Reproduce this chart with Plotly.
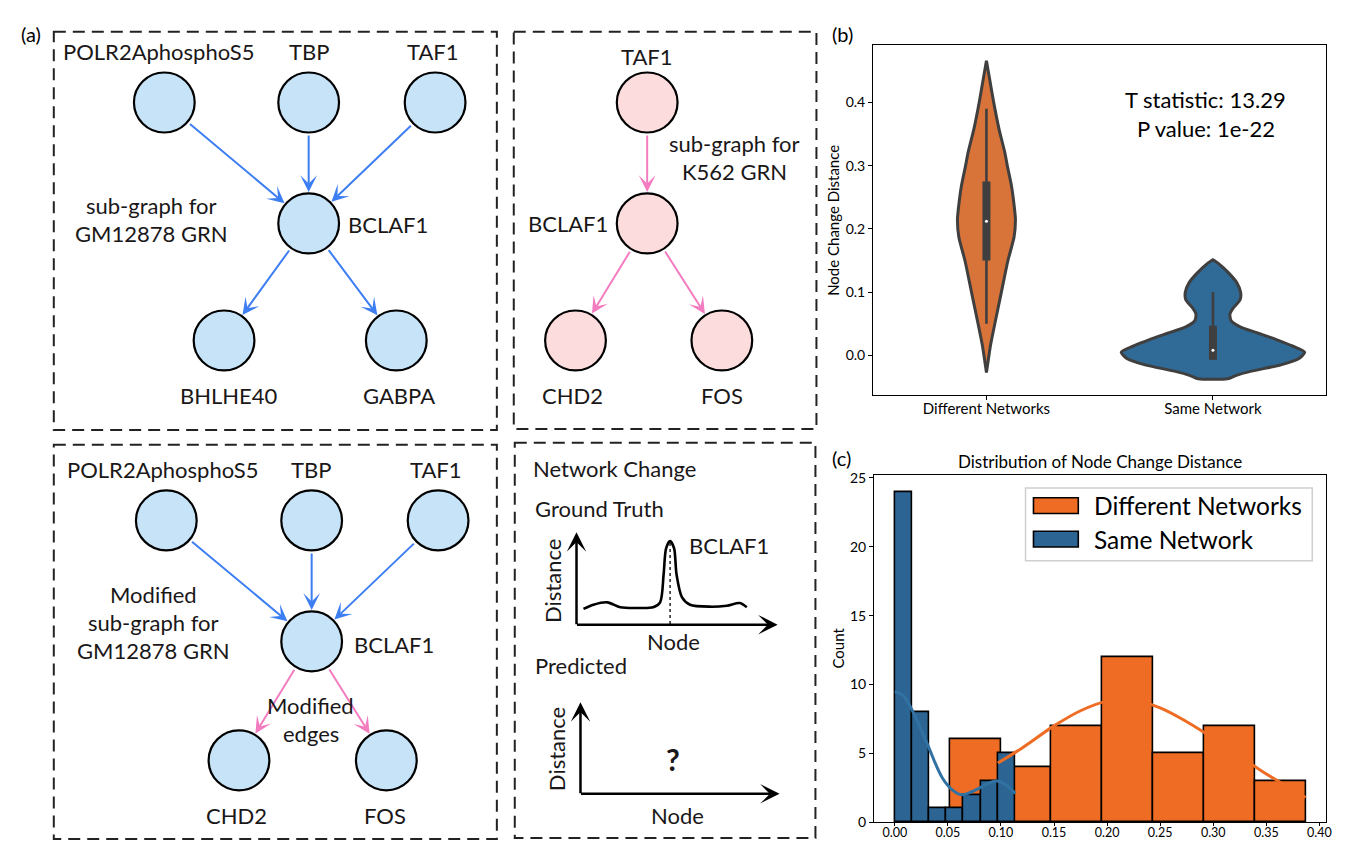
import plotly.graph_objects as go

W, H = 1368, 841

# ---------------- panel (b): violin data ----------------
violin_categories = ["Different Networks", "Same Network"]
diff_violin_y = [-0.027, -0.010, 0.016, 0.050, 0.100, 0.150, 0.187, 0.215, 0.238,
                 0.269, 0.300, 0.321, 0.357, 0.400, 0.435, 0.466]
diff_violin_halfwidth = [0.0, 0.007, 0.018, 0.037, 0.066, 0.095, 0.122, 0.128, 0.122,
                         0.110, 0.092, 0.081, 0.056, 0.032, 0.015, 0.0]
same_violin_y = [-0.037, -0.032, -0.025, -0.015, -0.005, 0.005, 0.015, 0.025, 0.035,
                 0.045, 0.055, 0.065, 0.075, 0.088, 0.100, 0.115, 0.130, 0.145, 0.151]
same_violin_halfwidth = [0.065, 0.10, 0.17, 0.30, 0.38, 0.405, 0.35, 0.28, 0.20,
                         0.12, 0.08, 0.075, 0.09, 0.12, 0.122, 0.105, 0.07, 0.025, 0.0]
box_q1 = [0.150, -0.007]
box_q3 = [0.275, 0.047]
whisker_lo = [0.050, -0.007]
whisker_hi = [0.390, 0.100]
medians = [0.212, 0.008]
t_statistic = "13.29"
p_value = "1e-22"

# ---------------- panel (c): histogram data ----------------
diff_bin_edges = [0.0521, 0.1000, 0.1478, 0.1957, 0.2435, 0.2914, 0.3392, 0.3871]
diff_counts = [6, 4, 7, 12, 5, 7, 3]
same_bin_edges = [0.0, 0.0162, 0.0325, 0.0487, 0.0649, 0.0812, 0.0974, 0.1136]
same_counts = [24, 8, 1, 1, 2, 3, 5]
diff_kde_x = [0.097, 0.120, 0.150, 0.175, 0.200, 0.225, 0.250, 0.275, 0.300, 0.325, 0.350, 0.370, 0.387]
diff_kde_y = [4.3, 5.4, 7.0, 8.1, 8.8, 8.9, 8.3, 7.3, 6.1, 4.8, 3.5, 2.6, 1.8]
same_kde_x = [0.0, 0.008, 0.016, 0.030, 0.045, 0.055, 0.063, 0.072, 0.080, 0.090, 0.097, 0.105, 0.1136]
same_kde_y = [9.5, 9.2, 8.2, 5.8, 3.2, 2.3, 2.0, 2.2, 2.5, 2.9, 3.0, 2.7, 2.1]

ORANGE_V, BLUE_V = "#d8733a", "#306a96"
ORANGE_H, BLUE_H = "#ee6c23", "#2c6594"
DARK = "#3f3f3f"

fig = go.Figure()

# ---------- violins ----------
def outline(center, ys, hws):
    xs = [center + h for h in hws] + [center - h for h in reversed(hws)]
    yy = list(ys) + list(reversed(ys))
    return xs + [xs[0]], yy + [yy[0]]

for i, (ys, hws, col) in enumerate([(diff_violin_y, diff_violin_halfwidth, ORANGE_V),
                                    (same_violin_y, same_violin_halfwidth, BLUE_V)]):
    xs, yy = outline(i, ys, hws)
    fig.add_trace(go.Scatter(x=xs, y=yy, mode="lines", fill="toself", fillcolor=col,
                             line=dict(color=DARK, width=3, shape="spline", smoothing=0.6),
                             name=violin_categories[i], showlegend=False,
                             xaxis="x", yaxis="y"))
    fig.add_trace(go.Scatter(x=[i, i], y=[whisker_lo[i], whisker_hi[i]], mode="lines",
                             line=dict(color=DARK, width=2.6), showlegend=False,
                             xaxis="x", yaxis="y"))
    fig.add_trace(go.Scatter(x=[i, i], y=[box_q1[i], box_q3[i]], mode="lines",
                             line=dict(color=DARK, width=8), showlegend=False,
                             xaxis="x", yaxis="y"))
    fig.add_trace(go.Scatter(x=[i], y=[medians[i]], mode="markers",
                             marker=dict(color="white", size=3), showlegend=False,
                             xaxis="x", yaxis="y"))

# ---------- histogram ----------
def centers(edges):
    return [(a + b) / 2 for a, b in zip(edges[:-1], edges[1:])]

def widths(edges):
    return [b - a for a, b in zip(edges[:-1], edges[1:])]

fig.add_trace(go.Bar(x=centers(diff_bin_edges), y=diff_counts, width=widths(diff_bin_edges),
                     marker=dict(color=ORANGE_H, line=dict(color="black", width=1.6)),
                     name="Different Networks", showlegend=False, xaxis="x2", yaxis="y2"))
fig.add_trace(go.Bar(x=centers(same_bin_edges), y=same_counts, width=widths(same_bin_edges),
                     marker=dict(color=BLUE_H, line=dict(color="black", width=1.6)),
                     name="Same Network", showlegend=False, xaxis="x2", yaxis="y2"))
fig.add_trace(go.Scatter(x=diff_kde_x, y=diff_kde_y, mode="lines",
                         line=dict(color=ORANGE_H, width=3, shape="spline"),
                         showlegend=False, xaxis="x2", yaxis="y2"))
fig.add_trace(go.Scatter(x=same_kde_x, y=same_kde_y, mode="lines",
                         line=dict(color="#3272a3", width=3, shape="spline"),
                         showlegend=False, xaxis="x2", yaxis="y2"))

# ---------- panel (a) schematic on a pixel-space overlay axis ----------
TXT = "#1a1718"
FONT = "Lato"
FS = 22
R = 30.5
BLUE_NODE, PINK_NODE = "#c6e3f8", "#fcdcdc"
BLUE_EDGE, PINK_EDGE = "#3e7ef3", "#f37cc0"

shapes = []
annotations = []

def px_text(x, y, text, size=FS, anchor="center", angle=0, color=TXT, family=FONT):
    annotations.append(dict(x=x, y=y, xref="x3", yref="y3", text=text, showarrow=False,
                            xanchor=anchor, yanchor="middle", textangle=angle,
                            font=dict(family=family, size=size, color=color)))

def node(cx, cy, fill):
    shapes.append(dict(type="circle", xref="x3", yref="y3", x0=cx - R, x1=cx + R,
                       y0=cy - R, y1=cy + R, fillcolor=fill,
                       line=dict(color="black", width=2.2), layer="above"))

def edge(p, q, color):
    annotations.append(dict(x=q[0], y=q[1], ax=p[0], ay=p[1], xref="x3", yref="y3",
                            axref="x3", ayref="y3", text="", showarrow=True,
                            arrowhead=3, arrowsize=1.4, arrowwidth=2, arrowcolor=color,
                            standoff=R + 1, startstandoff=R + 1))

def dashed_box(x0, y0, x1, y1):
    shapes.append(dict(type="rect", xref="x3", yref="y3", x0=x0, y0=y0, x1=x1, y1=y1,
                       line=dict(color="#222222", width=2, dash="12px,7px"),
                       fillcolor="rgba(0,0,0,0)"))

# boxes
dashed_box(46, 18, 491, 423)
dashed_box(508, 18, 812, 422)
dashed_box(46, 438, 491, 839)
dashed_box(509, 436, 811, 838)

# top-left: GM12878 sub-graph
tl = {"POLR2AphosphoS5": (157, 90), "TBP": (302, 90), "TAF1": (429, 90),
      "BCLAF1": (302, 213), "BHLHE40": (217, 332), "GABPA": (390, 332)}
for a in ["POLR2AphosphoS5", "TBP", "TAF1"]:
    edge(tl[a], tl["BCLAF1"], BLUE_EDGE)
for b in ["BHLHE40", "GABPA"]:
    edge(tl["BCLAF1"], tl[b], BLUE_EDGE)
for k, v in tl.items():
    node(v[0], v[1], BLUE_NODE)
px_text(152, 38, "POLR2AphosphoS5")
px_text(302, 38, "TBP")
px_text(427, 38, "TAF1")
px_text(382, 214, "BCLAF1")
px_text(222, 388, "BHLHE40")
px_text(393, 388, "GABPA")
px_text(144, 195, "sub-graph for")
px_text(144, 223, "GM12878 GRN")

# top-right: K562 sub-graph
tr = {"TAF1": (642, 90), "BCLAF1": (642, 213), "CHD2": (570, 332), "FOS": (717, 332)}
edge(tr["TAF1"], tr["BCLAF1"], PINK_EDGE)
edge(tr["BCLAF1"], tr["CHD2"], PINK_EDGE)
edge(tr["BCLAF1"], tr["FOS"], PINK_EDGE)
for k, v in tr.items():
    node(v[0], v[1], PINK_NODE)
px_text(642, 43, "TAF1")
px_text(730, 132, "sub-graph for")
px_text(730, 160, "K562 GRN")
px_text(562, 213, "BCLAF1")
px_text(567, 388, "CHD2")
px_text(717, 388, "FOS")

# bottom-left: modified sub-graph
bl = {"POLR2AphosphoS5": (159, 515), "TBP": (305, 515), "TAF1": (432, 515),
      "BCLAF1": (305, 638), "CHD2": (232, 759), "FOS": (380, 759)}
for a in ["POLR2AphosphoS5", "TBP", "TAF1"]:
    edge(bl[a], bl["BCLAF1"], BLUE_EDGE)
for b in ["CHD2", "FOS"]:
    edge(bl["BCLAF1"], bl[b], PINK_EDGE)
for k, v in bl.items():
    node(v[0], v[1], BLUE_NODE)
px_text(156, 463, "POLR2AphosphoS5")
px_text(304, 463, "TBP")
px_text(430, 463, "TAF1")
px_text(388, 641, "BCLAF1")
px_text(229, 815, "CHD2")
px_text(379, 815, "FOS")
px_text(146, 590, "Modified")
px_text(146, 619, "sub-graph for")
px_text(146, 647, "GM12878 GRN")
px_text(304, 703, "Modified")
px_text(304, 732, "edges")

# bottom-right: network change sketch
gt_curve_x = [578, 588, 602, 615, 632, 648, 655, 658.5, 661, 665, 669, 671.5, 677, 685, 705, 722, 735, 742]
gt_curve_y = [605, 600.7, 598.3, 603.3, 604, 603.3, 598.3, 570, 543.3, 536, 543.3, 570, 593.3, 600.7, 602.7, 601.7, 599, 603.3]
fig.add_trace(go.Scatter(x=gt_curve_x, y=gt_curve_y, mode="lines",
                         line=dict(color="black", width=2.6, shape="spline", smoothing=0.8),
                         showlegend=False, xaxis="x3", yaxis="y3", hoverinfo="skip"))
fig.add_trace(go.Scatter(x=[665, 665], y=[538, 621], mode="lines",
                         line=dict(color="black", width=1.3, dash="dot"),
                         showlegend=False, xaxis="x3", yaxis="y3", hoverinfo="skip"))

def axis_arrow(x0, y0, x1, y1):
    annotations.append(dict(x=x1, y=y1, ax=x0, ay=y0, xref="x3", yref="y3",
                            axref="x3", ayref="y3", text="", showarrow=True,
                            arrowhead=3, arrowsize=1.3, arrowwidth=2.5, arrowcolor="black"))

axis_arrow(571, 622, 571, 527)
axis_arrow(570, 621, 773, 621)
axis_arrow(575, 794, 575, 700)
axis_arrow(574, 793, 775, 793)
px_text(525, 462, "Network Change", anchor="left")
px_text(527, 503, "Ground Truth", anchor="left")
px_text(682, 540, "BCLAF1", anchor="left")
px_text(547, 577, "Distance", angle=-90)
px_text(668, 638, "Node")
px_text(527, 663, "Predicted", anchor="left")
px_text(551, 748, "Distance", angle=-90)
px_text(668, 758, "<b>?</b>", size=30)
px_text(672, 815, "Node")

# panel labels
px_text(23, 20, "(a)", size=20, color="black")
px_text(838, 20, "(b)", size=20, color="black")
px_text(837, 452, "(c)", size=20, color="black")

# panel (b) texts
px_text(828, 210, "Node Change Distance", size=15, angle=-90, color="black")
px_text(1203, 87, "T statistic: " + t_statistic, size=22, color="black")
px_text(1203, 116, "P value: " + p_value, size=22, color="black")

# panel (c) texts + manual legend
px_text(1097, 455, "Distribution of Node Change Distance", size=17, color="black")
px_text(834, 645, "Count", size=15, angle=-90, color="black")
shapes.append(dict(type="rect", xref="x3", yref="y3", x0=1022, y0=482, x1=1310, y1=556,
                   fillcolor="rgba(255,255,255,0.85)", line=dict(color="#cfcfcf", width=1.5),
                   layer="above"))
for (yc, col, label) in [(500, ORANGE_H, "Different Networks"), (534, BLUE_H, "Same Network")]:
    shapes.append(dict(type="rect", xref="x3", yref="y3", x0=1030, x1=1075, y0=yc - 8, y1=yc + 8,
                       fillcolor=col, line=dict(color="black", width=1.6), layer="above"))
    px_text(1089, yc, label, size=24.5, anchor="left", color="black")

axis_common = dict(showline=True, mirror=True, linecolor="black", linewidth=1.3,
                   ticks="outside", ticklen=4, tickwidth=1.2, tickcolor="black",
                   showgrid=False, zeroline=False,
                   tickfont=dict(family=FONT, size=14, color="black"))

fig.update_layout(
    width=W, height=H, margin=dict(l=0, r=0, t=0, b=0),
    paper_bgcolor="white", plot_bgcolor="rgba(0,0,0,0)",
    barmode="overlay", bargap=0, showlegend=False,
    font=dict(family=FONT, color="black"),
    xaxis=dict(domain=[869 / W, 1324 / W], range=[-0.5, 1.5], tickvals=[0, 1],
               ticktext=violin_categories, anchor="y", ticklabelstandoff=-4,
               **{**axis_common, "tickfont": dict(family=FONT, size=15, color="black")}),
    yaxis=dict(domain=[1 - 387 / H, 1 - 32 / H], range=[-0.062, 0.490],
               tickvals=[0, 0.1, 0.2, 0.3, 0.4], tickformat=".1f", anchor="x", **axis_common),
    xaxis2=dict(domain=[870 / W, 1324 / W], range=[-0.0194, 0.4064],
                tickvals=[0, 0.05, 0.1, 0.15, 0.2, 0.25, 0.3, 0.35, 0.4], tickformat=".2f",
                anchor="y2", ticklabelstandoff=-4,
                **{**axis_common, "ticklen": 3,
                   "tickfont": dict(family=FONT, size=12.5, color="black")}),
    yaxis2=dict(domain=[1 - 822 / H, 1 - 469 / H], range=[0, 25.2],
                tickvals=[0, 5, 10, 15, 20, 25], anchor="x2", **axis_common),
    xaxis3=dict(domain=[0, 1], range=[0, W], visible=False, anchor="y3", fixedrange=True),
    yaxis3=dict(domain=[0, 1], range=[H, 0], visible=False, anchor="x3", fixedrange=True),
    shapes=shapes, annotations=annotations,
)

fig.write_html("out.html")
